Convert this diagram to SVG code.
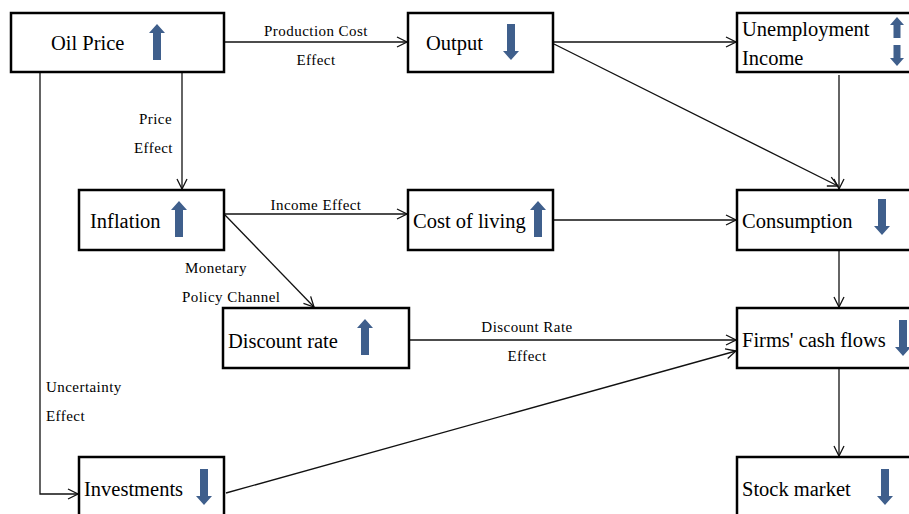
<svg xmlns="http://www.w3.org/2000/svg" width="909" height="514" viewBox="0 0 909 514">
<style>
.box{fill:#fff;stroke:#000;stroke-width:2.5}
.nt{font-family:"Liberation Serif","Times New Roman",serif;font-size:20.5px;fill:#000}
.lt{font-family:"Liberation Serif","Times New Roman",serif;font-size:15px;fill:#000;letter-spacing:0.45px}
.ln{fill:none;stroke:#111;stroke-width:1.3}
.blk{fill:#3f5f8c}
</style>
<defs>
<marker id="ah" viewBox="0 0 12 12" refX="11" refY="6" markerWidth="12" markerHeight="12" markerUnits="userSpaceOnUse" orient="auto">
<path d="M1,1 L11,6 L1,11" fill="none" stroke="#111" stroke-width="1.3"/>
</marker>
<path id="up" d="M0,0 L8,9 L4,9 L4,36 L-4,36 L-4,9 L-8,9 Z"/>
<path id="dn" d="M0,36 L8,27 L4,27 L4,0 L-4,0 L-4,27 L-8,27 Z"/>
<path id="sup" d="M0,0 L7,8 L3.5,8 L3.5,21 L-3.5,21 L-3.5,8 L-7,8 Z"/>
<path id="sdn" d="M0,21 L7,13 L3.5,13 L3.5,0 L-3.5,0 L-3.5,13 L-7,13 Z"/>
</defs>

<g id="connectors">
<line class="ln" x1="225" y1="42" x2="407" y2="42" marker-end="url(#ah)"/>
<line class="ln" x1="182" y1="73" x2="182" y2="189" marker-end="url(#ah)"/>
<polyline class="ln" points="40,73 40,494 78,494" marker-end="url(#ah)"/>
<line class="ln" x1="225" y1="214" x2="407" y2="214" marker-end="url(#ah)"/>
<line class="ln" x1="225" y1="215" x2="314" y2="307" marker-end="url(#ah)"/>
<line class="ln" x1="554" y1="42" x2="736" y2="42" marker-end="url(#ah)"/>
<line class="ln" x1="554" y1="44" x2="838" y2="186" marker-end="url(#ah)"/>
<line class="ln" x1="839" y1="75" x2="839" y2="189" marker-end="url(#ah)"/>
<line class="ln" x1="554" y1="220" x2="736" y2="220" marker-end="url(#ah)"/>
<line class="ln" x1="839" y1="251" x2="839" y2="307" marker-end="url(#ah)"/>
<line class="ln" x1="410" y1="340" x2="736" y2="340" marker-end="url(#ah)"/>
<line class="ln" x1="226" y1="493" x2="736" y2="351" marker-end="url(#ah)"/>
<line class="ln" x1="839" y1="369" x2="839" y2="456" marker-end="url(#ah)"/>
<text class="lt" x="316" y="36" text-anchor="middle">Production Cost</text>
<text class="lt" x="316" y="65" text-anchor="middle">Effect</text>
<text class="lt" x="172" y="124" text-anchor="end">Price</text>
<text class="lt" x="173" y="153" text-anchor="end">Effect</text>
<text class="lt" x="316" y="210" text-anchor="middle">Income Effect</text>
<text class="lt" x="185" y="273">Monetary</text>
<text class="lt" x="182" y="302">Policy Channel</text>
<text class="lt" x="46" y="392">Uncertainty</text>
<text class="lt" x="46" y="421">Effect</text>
<text class="lt" x="527" y="332" text-anchor="middle">Discount Rate</text>
<text class="lt" x="527" y="361" text-anchor="middle">Effect</text>
</g>

<g id="oil-price">
<rect class="box" x="11" y="13" width="213" height="59"/>
<text class="nt" x="51" y="50">Oil Price</text>
<use href="#up" class="blk" x="157" y="24"/>
</g>
<g id="output">
<rect class="box" x="408" y="13" width="145" height="59"/>
<text class="nt" x="426" y="50">Output</text>
<use href="#dn" class="blk" x="511" y="24"/>
</g>
<g id="unemployment-income">
<rect class="box" x="737" y="13" width="200" height="59"/>
<text class="nt" x="742" y="36">Unemployment</text>
<text class="nt" x="742" y="65">Income</text>
<use href="#sup" class="blk" x="897" y="17"/>
<use href="#sdn" class="blk" x="897" y="45"/>
</g>
<g id="inflation">
<rect class="box" x="79" y="190" width="145" height="60"/>
<text class="nt" x="90" y="228">Inflation</text>
<use href="#up" class="blk" x="179" y="201"/>
</g>
<g id="cost-of-living">
<rect class="box" x="408" y="190" width="145" height="60"/>
<text class="nt" x="413" y="228">Cost of living</text>
<use href="#up" class="blk" x="538" y="201"/>
</g>
<g id="consumption">
<rect class="box" x="737" y="190" width="200" height="60"/>
<text class="nt" x="742" y="228">Consumption</text>
<use href="#dn" class="blk" x="882" y="199"/>
</g>
<g id="discount-rate">
<rect class="box" x="223" y="308" width="186" height="60"/>
<text class="nt" x="228" y="348">Discount rate</text>
<use href="#up" class="blk" x="365" y="319"/>
</g>
<g id="firms-cash-flows">
<rect class="box" x="737" y="308" width="200" height="60"/>
<text class="nt" x="742" y="347">Firms' cash flows</text>
<use href="#dn" class="blk" x="903" y="320"/>
</g>
<g id="investments">
<rect class="box" x="79" y="457" width="145" height="80"/>
<text class="nt" x="84" y="496">Investments</text>
<use href="#dn" class="blk" x="204" y="469"/>
</g>
<g id="stock-market">
<rect class="box" x="737" y="457" width="200" height="80"/>
<text class="nt" x="742" y="496">Stock market</text>
<use href="#dn" class="blk" x="885" y="469"/>
</g>
</svg>
